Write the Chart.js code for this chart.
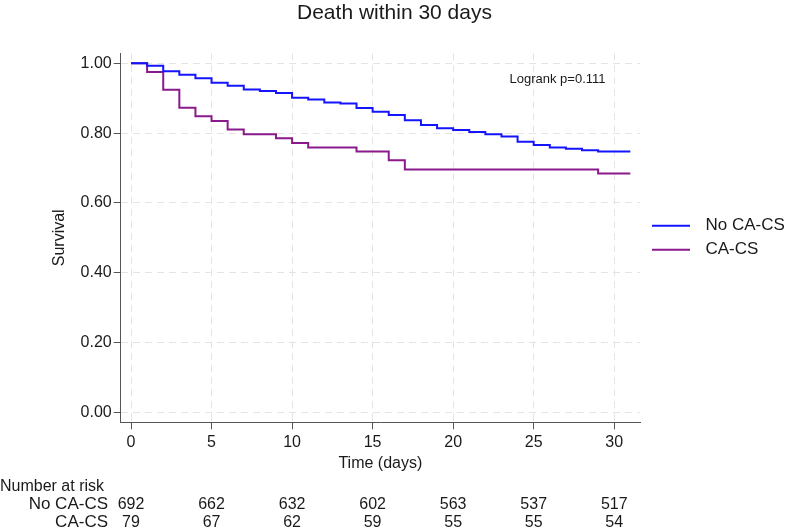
<!DOCTYPE html>
<html><head><meta charset="utf-8">
<script src="https://cdn.jsdelivr.net/npm/chart.js@4"></script>
<style>html,body{margin:0;padding:0;background:#fff}#wrap{width:789px;height:530px}</style>
</head><body><div id="wrap"><canvas id="c" width="789" height="530"></canvas></div>
<script>
const FONT = "'Liberation Sans', Arial, Helvetica, sans-serif";
const chartTitle = 'Death within 30 days';
const xTitle = 'Time (days)';
const yTitle = 'Survival';
const seriesNames = ['No CA-CS', 'CA-CS'];
const logrankText = 'Logrank p=0.111';
const riskHeader = 'Number at risk';

// Kaplan-Meier steps (time of drop, survival after drop)
const noTimes = [0,1,2,3,4,5,6,7,8,9,10,11,12,13,14,15,16,17,18,19,20,21,22,23,24,25,26,27,28,29,31];
const noSurv  = [1.000,0.993,0.977,0.967,0.957,0.944,0.936,0.925,0.921,0.915,0.901,0.896,0.888,0.885,0.872,0.861,0.852,0.837,0.823,0.814,0.809,0.803,0.797,0.790,0.775,0.766,0.759,0.755,0.751,0.747,0.747];
const caTimes = [0,1,2,3,4,5,6,7,9,10,11,14,16,17,29,31];
const caSurv  = [1.000,0.975,0.924,0.873,0.848,0.835,0.810,0.797,0.785,0.772,0.759,0.747,0.722,0.696,0.684,0.684];

const xTicks = [0,5,10,15,20,25,30];
const yTicks = [0,0.2,0.4,0.6,0.8,1.0];
const riskTimes = [0,5,10,15,20,25,30];
const riskNo = [692,662,632,602,563,537,517];
const riskCa = [79,67,62,59,55,55,54];

const TXT = '#1a1a1a';
const AXIS = '#555555';
const GRID = '#e4e4e4';

const toPts = (ts, vs) => ts.map((t, i) => ({x: t, y: vs[i]}));

const extras = {
  id: 'extras',
  afterDraw(chart) {
    const ctx = chart.ctx, xs = chart.scales.x, ys = chart.scales.y, a = chart.chartArea;
    ctx.save();
    ctx.fillStyle = TXT;
    ctx.textBaseline = 'middle';
    ctx.font = '13px ' + FONT;
    ctx.textAlign = 'left';
    ctx.fillText(logrankText, xs.getPixelForValue(23.5), ys.getPixelForValue(0.955));
    ctx.font = '16px ' + FONT;
    ctx.fillText(riskHeader, 0, a.bottom + 64);
    ctx.font = '17px ' + FONT;
    ctx.textAlign = 'right';
    ctx.fillText(seriesNames[0], 108, a.bottom + 82);
    ctx.fillText(seriesNames[1], 108, a.bottom + 100.5);
    ctx.font = '16px ' + FONT;
    ctx.textAlign = 'center';
    riskTimes.forEach((t, i) => {
      const px = xs.getPixelForValue(t);
      ctx.fillText(String(riskNo[i]), px, a.bottom + 82);
      ctx.fillText(String(riskCa[i]), px, a.bottom + 100.5);
    });
    ctx.restore();
  }
};

new Chart(document.getElementById('c'), {
  type: 'line',
  data: {
    datasets: [
      {label: seriesNames[0], data: toPts(noTimes, noSurv), borderColor: '#1414ff', backgroundColor: '#1414ff', borderWidth: 2, stepped: 'before', pointRadius: 0, fill: false},
      {label: seriesNames[1], data: toPts(caTimes, caSurv), borderColor: '#8a1a8c', backgroundColor: '#8a1a8c', borderWidth: 2, stepped: 'before', pointRadius: 0, fill: false}
    ]
  },
  options: {
    responsive: false,
    animation: false,
    devicePixelRatio: 1,
    layout: {padding: 0},
    plugins: {
      title: {display: true, text: chartTitle, color: TXT, font: {family: FONT, size: 21, weight: 'normal', lineHeight: 1.0}, padding: {top: 2.5, bottom: 29.8}},
      legend: {
        position: 'right', fullSize: false, maxWidth: 149,
        labels: {
          color: TXT, font: {family: FONT, size: 17}, padding: 7,
          usePointStyle: true, pointStyleWidth: 50,
          generateLabels: (chart) => Chart.defaults.plugins.legend.labels.generateLabels(chart).map(l => Object.assign(l, {pointStyle: 'line', lineDash: [0, 5, 38, 1000], lineWidth: 2}))
        }
      },
      tooltip: {enabled: false}
    },
    scales: {
      x: {
        type: 'linear', min: -0.64, max: 31.6,
        afterBuildTicks: (s) => { s.ticks = xTicks.map(v => ({value: v})); },
        afterFit: (s) => { s.height = 107.7; },
        ticks: {color: TXT, font: {family: FONT, size: 16}, padding: 3.5, autoSkip: false, maxRotation: 0},
        grid: {color: GRID, lineWidth: 1, drawTicks: true, tickLength: 7, tickColor: AXIS, tickWidth: 1},
        border: {display: true, color: AXIS, width: 1, dash: [7, 5]},
        title: {display: true, text: xTitle, color: TXT, font: {family: FONT, size: 16}, padding: {top: 0, bottom: 56.6}}
      },
      y: {
        type: 'linear', min: -0.0287, max: 1.0287,
        afterBuildTicks: (s) => { s.ticks = yTicks.map(v => ({value: v})); },
        afterFit: (s) => { s.width = 120.7; },
        ticks: {color: TXT, font: {family: FONT, size: 16}, padding: 2, callback: (v) => Number(v).toFixed(2)},
        grid: {color: GRID, lineWidth: 1, drawTicks: true, tickLength: 7, tickColor: AXIS, tickWidth: 1},
        border: {display: true, color: AXIS, width: 1, dash: [7, 5]},
        title: {display: true, text: yTitle, color: TXT, font: {family: FONT, size: 16}, padding: {top: 49.5, bottom: 0}}
      }
    }
  },
  plugins: [extras]
});
</script></body></html>
